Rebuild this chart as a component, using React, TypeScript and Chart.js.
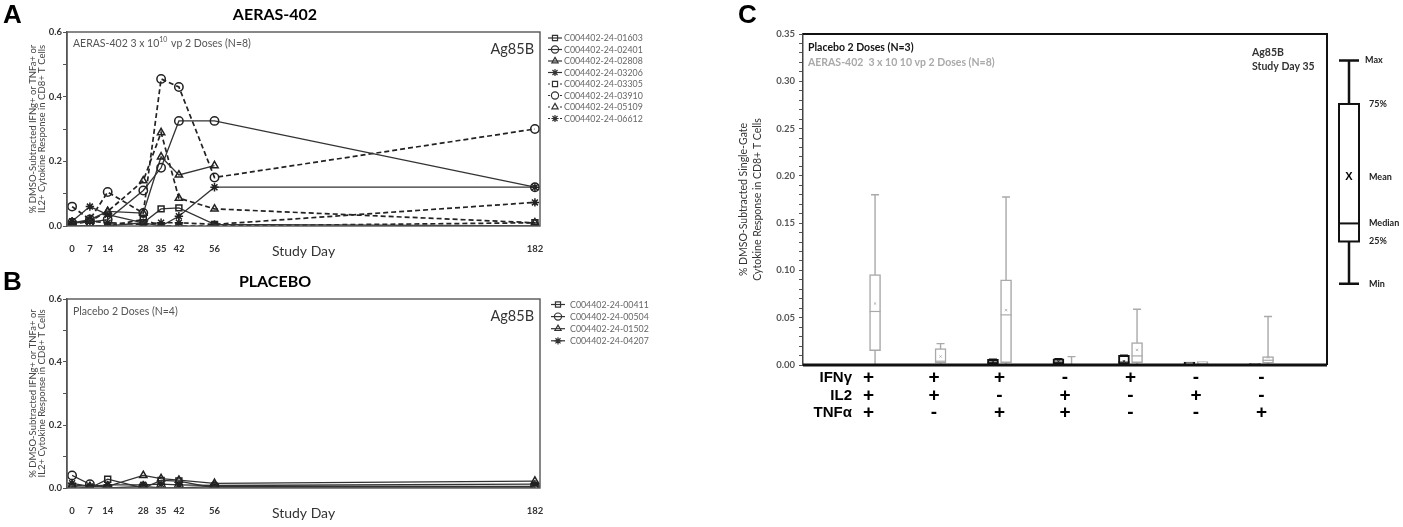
import React, { useEffect, useRef } from "react";
import { Chart, registerables } from "chart.js";
import { drawPoint } from "chart.js/helpers";

Chart.register(...registerables);

const FONT = "Lato, 'Open Sans', sans-serif";
const LETTER_FONT = "'Liberation Sans', Arial, sans-serif";

// ---------- panels A and B: response per subject over study days
const studyDays = [0, 7, 14, 28, 35, 42, 56, 182];
const lineYLabelled = [0, 0.2, 0.4, 0.6];

const aerasIds = [
  "C004402-24-01603",
  "C004402-24-02401",
  "C004402-24-02808",
  "C004402-24-03206",
  "C004402-24-03305",
  "C004402-24-03910",
  "C004402-24-05109",
  "C004402-24-06612",
];
const a01603 = [0.0, 0.0, 0.0, 0.01, 0.053, 0.056, 0.005, 0.0];
const a02401 = [0.01, 0.012, 0.02, 0.11, 0.18, 0.325, 0.325, 0.12];
const a02808 = [0.01, 0.02, 0.045, 0.04, 0.214, 0.158, 0.187, null];
const a03206 = [0.015, 0.06, 0.035, 0.01, 0.0, 0.03, 0.12, 0.12];
const a03305 = [0.0, 0.0, 0.0, 0.02, 0.0, 0.0, 0.0, 0.01];
const a03910 = [0.06, 0.02, 0.105, 0.04, 0.455, 0.43, 0.15, 0.3];
const a05109 = [0.01, 0.015, 0.045, 0.14, 0.289, 0.086, 0.053, 0.01];
const a06612 = [0.005, 0.015, 0.01, 0.005, 0.01, 0.01, 0.005, 0.073];

const placeboIds = ["C004402-24-00411", "C004402-24-00504", "C004402-24-01502", "C004402-24-04207"];
const p00411 = [0.005, 0.0, 0.028, 0.0, 0.024, 0.022, 0.0, 0.0];
const p00504 = [0.04, 0.012, 0.0, 0.005, 0.0, 0.0, 0.005, 0.005];
const p01502 = [0.01, 0.005, 0.005, 0.04, 0.03, 0.025, 0.015, 0.022];
const p04207 = [0.015, 0.005, 0.01, 0.01, 0.012, 0.01, 0.008, 0.012];

// ---------- panel C: single-gate responses at study day 35
const cytokinePositions = [1, 2, 3, 4, 5, 6, 7];
const ifngSigns = ["+", "+", "+", "-", "+", "-", "-"];
const il2Signs = ["+", "+", "-", "+", "-", "+", "-"];
const tnfSigns = ["+", "-", "+", "+", "-", "-", "+"];
const cYLabelled = [0, 0.05, 0.1, 0.15, 0.2, 0.25, 0.3, 0.35];

const placeboMin = [0, 0, 0, 0, 0, 0, 0];
const placeboQ1 = [0, 0, 0.001, 0.001, 0.0005, 0.001, 0];
const placeboMedian = [0, 0, 0.003, 0.003, 0.003, 0.002, 0.001];
const placeboQ3 = [0.0005, 0, 0.006, 0.0065, 0.0103, 0.003, 0.0015];
const placeboMax = [0.0005, 0, 0.006, 0.0065, 0.0103, 0.003, 0.0015];
const placeboMean = [0.0003, 0, 0.003, 0.004, 0.004, 0.002, 0.001];

const aerasMin = [0, 0, 0, 0, 0, 0, 0];
const aerasQ1 = [0.0152, 0.002, 0.0025, 0, 0.0025, 0.001, 0.002];
const aerasMedian = [0.0566, 0.004, 0.053, 0.0005, 0.0096, 0.002, 0.005];
const aerasQ3 = [0.0955, 0.0173, 0.09, 0.001, 0.0237, 0.0035, 0.0089];
const aerasMax = [0.18, 0.0226, 0.1776, 0.0089, 0.059, 0.0035, 0.0513];
const aerasMean = [0.065, 0.009, 0.058, 0.002, 0.016, 0.002, 0.008];

// schematic key on the right of panel C, in y-axis units
const keyLabels = ["Max", "75%", "Mean", "Median", "25%", "Min"];
const keyLevels = [0.322, 0.276, 0.1985, 0.1497, 0.1306, 0.086];

type LineSpec = {
  letter: string;
  title: string;
  note: [string, boolean][];
  noteDy: number;
  ids: string[];
  series: (number | null)[][];
  shapes: string[];
  dashed: boolean[];
  legendX: number;
  legendTextX: number;
  legendTop: number;
  legendStep: number;
};

const near = (list: number[], v: number) => list.find((m) => Math.abs(m - v) < 1e-6);

function lineDecor(spec: LineSpec) {
  return {
    id: "lineDecor",
    afterDraw(chart: any) {
      const { ctx, chartArea: a } = chart;
      ctx.save();
      ctx.setLineDash([]);
      ctx.strokeStyle = "#555";
      ctx.lineWidth = 1.4;
      ctx.strokeRect(a.left, a.top, a.right - a.left, a.bottom - a.top);

      ctx.textBaseline = "middle";
      ctx.fillStyle = "#000";
      ctx.textAlign = "left";
      ctx.font = `bold 26px ${LETTER_FONT}`;
      ctx.fillText(spec.letter, 3, 16);
      ctx.textAlign = "center";
      ctx.font = `bold 16px ${FONT}`;
      ctx.fillText(spec.title, 275, 15);

      // group note, with superscript pieces
      ctx.textAlign = "left";
      ctx.fillStyle = "#555";
      let x = a.left + 6;
      const ny = a.top + spec.noteDy;
      spec.note.forEach(([t, sup]) => {
        ctx.font = sup ? `7px ${FONT}` : `10.5px ${FONT}`;
        ctx.fillText(t, x, sup ? ny - 4 : ny);
        x += ctx.measureText(t).width + (sup ? 1 : 0);
      });

      ctx.textAlign = "right";
      ctx.fillStyle = "#333";
      ctx.font = `14.5px ${FONT}`;
      ctx.fillText("Ag85B", a.right - 6, a.top + 17);

      // legend: line sample + marker + id
      chart.data.datasets.forEach((ds: any, i: number) => {
        const y = spec.legendTop + i * spec.legendStep;
        const cx = spec.legendX;
        ctx.strokeStyle = "#333";
        ctx.lineWidth = 1.2;
        ctx.beginPath();
        if (ds.borderDash.length) {
          ctx.moveTo(cx - 7, y);
          ctx.lineTo(cx - 5, y);
          ctx.moveTo(cx + 5, y);
          ctx.lineTo(cx + 7, y);
        } else {
          ctx.moveTo(cx - 7, y);
          ctx.lineTo(cx + 7, y);
        }
        ctx.stroke();
        ctx.fillStyle = "rgba(255,255,255,0)";
        drawPoint(ctx, { pointStyle: ds.pointStyle, radius: 3.6, borderWidth: 1.3, rotation: 0 } as any, cx, y);
        ctx.fillStyle = "#666";
        ctx.font = `8.8px ${FONT}`;
        ctx.textAlign = "left";
        ctx.fillText(ds.label, spec.legendTextX, y + 0.5);
      });
      ctx.restore();
    },
  };
}

function lineConfig(spec: LineSpec): any {
  return {
    type: "line",
    data: {
      datasets: spec.series.map((vals, i) => ({
        label: spec.ids[i],
        data: studyDays.map((d, j) => ({ x: d, y: vals[j] })),
        borderColor: spec.dashed[i] ? "#222" : "#333",
        borderWidth: spec.dashed[i] ? 1.7 : 1.3,
        borderDash: spec.dashed[i] ? [5, 3] : [],
        pointStyle: spec.shapes[i],
        pointRadius: 4.2,
        pointBorderWidth: 1.5,
        pointBorderColor: "#222",
        pointBackgroundColor: "rgba(255,255,255,0)",
        spanGaps: false,
        tension: 0,
      })),
    },
    options: {
      animation: false,
      responsive: false,
      maintainAspectRatio: false,
      layout: { padding: { left: 0, top: 32, right: 160, bottom: 5 } },
      plugins: { legend: { display: false }, tooltip: { enabled: false }, title: { display: false } },
      scales: {
        x: {
          type: "linear",
          min: -2,
          max: 184,
          afterBuildTicks: (s: any) => {
            s.ticks = studyDays.map((v) => ({ value: v }));
          },
          afterFit: (s: any) => {
            s.height = 34;
          },
          grid: { display: false },
          border: { display: false },
          ticks: {
            autoSkip: false,
            maxRotation: 0,
            padding: 9,
            color: "#333",
            font: { family: FONT, size: 9.5, weight: "bold" },
            callback: (v: number) => String(v),
          },
          title: {
            display: true,
            text: "Study Day",
            color: "#333",
            font: { family: FONT, size: 14 },
            padding: { top: 0, bottom: 0 },
          },
        },
        y: {
          min: 0,
          max: 0.6,
          afterBuildTicks: (s: any) => {
            s.ticks = [0, 1, 2, 3, 4, 5, 6].map((k) => ({ value: k / 10 }));
          },
          afterFit: (s: any) => {
            s.width = 67;
          },
          grid: { drawOnChartArea: false, drawTicks: true, tickLength: 4, color: "#555" },
          border: { display: true, color: "#555", width: 1.4 },
          ticks: {
            autoSkip: false,
            padding: 1,
            color: "#333",
            font: { family: FONT, size: 9.5, weight: "bold" },
            callback: (v: number) => {
              const m = near(lineYLabelled, v);
              return m === undefined ? "" : m.toFixed(1);
            },
          },
          title: {
            display: true,
            text: ["% DMSO-Subtracted IFNg+ or TNFa+ or", "IL2+ Cytokine Response in CD8+ T Cells"],
            color: "#444",
            font: { family: FONT, size: 9.5, lineHeight: 0.98 },
            padding: { top: 28, bottom: 0 },
          },
        },
      },
    },
    plugins: [lineDecor(spec)],
  };
}

const specA: LineSpec = {
  letter: "A",
  title: "AERAS-402",
  note: [
    ["AERAS-402 3 x 10", false],
    ["10", true],
    [" vp 2 Doses (N=8)", false],
  ],
  noteDy: 12,
  ids: aerasIds,
  series: [a01603, a02401, a02808, a03206, a03305, a03910, a05109, a06612],
  shapes: ["rect", "circle", "triangle", "star", "rect", "circle", "triangle", "star"],
  dashed: [false, false, false, false, true, true, true, true],
  legendX: 555,
  legendTextX: 564,
  legendTop: 38,
  legendStep: 11.5,
};

const specB: LineSpec = {
  letter: "B",
  title: "PLACEBO",
  note: [["Placebo 2 Doses (N=4)", false]],
  noteDy: 13,
  ids: placeboIds,
  series: [p00411, p00504, p01502, p04207],
  shapes: ["rect", "circle", "triangle", "star"],
  dashed: [false, false, false, false],
  legendX: 558,
  legendTextX: 570,
  legendTop: 37.5,
  legendStep: 12.1,
};

// ---------- panel C box plots
const boxGroups = [
  {
    offset: -0.1,
    color: "#111",
    width: 2,
    min: placeboMin,
    q1: placeboQ1,
    median: placeboMedian,
    q3: placeboQ3,
    max: placeboMax,
    mean: placeboMean,
  },
  {
    offset: 0.1,
    color: "#a9a9a9",
    width: 1.5,
    min: aerasMin,
    q1: aerasQ1,
    median: aerasMedian,
    q3: aerasQ3,
    max: aerasMax,
    mean: aerasMean,
  },
];

const boxPlugin = {
  id: "boxDecor",
  beforeDatasetsDraw(chart: any) {
    const { ctx } = chart;
    const xs = chart.scales.x;
    const ys = chart.scales.y;
    ctx.save();
    boxGroups.forEach((g) => {
      ctx.strokeStyle = g.color;
      ctx.lineWidth = g.width === 2 ? 1.6 : 1.4;
      cytokinePositions.forEach((p, i) => {
        const cx = xs.getPixelForValue(p + g.offset);
        const yMax = ys.getPixelForValue(g.max[i]);
        const yMin = ys.getPixelForValue(g.min[i]);
        if (g.max[i] - g.min[i] < 0.004) return;
        ctx.beginPath();
        ctx.moveTo(cx, yMin);
        ctx.lineTo(cx, yMax);
        ctx.moveTo(cx - 4, yMax);
        ctx.lineTo(cx + 4, yMax);
        ctx.stroke();
      });
    });
    ctx.restore();
  },
  afterDatasetsDraw(chart: any) {
    const { ctx, chartArea: a } = chart;
    const xs = chart.scales.x;
    const ys = chart.scales.y;
    ctx.save();
    // medians and means inside boxes
    boxGroups.forEach((g) => {
      cytokinePositions.forEach((p, i) => {
        const cx = xs.getPixelForValue(p + g.offset);
        if (g.q3[i] - g.q1[i] < 0.004) return;
        ctx.strokeStyle = g.color;
        ctx.lineWidth = 1.2;
        const ym = ys.getPixelForValue(g.median[i]);
        ctx.beginPath();
        ctx.moveTo(cx - 5.5, ym);
        ctx.lineTo(cx + 5.5, ym);
        ctx.stroke();
        const yc = ys.getPixelForValue(g.mean[i]);
        ctx.lineWidth = 0.8;
        ctx.beginPath();
        ctx.moveTo(cx - 1.2, yc - 1.2);
        ctx.lineTo(cx + 1.2, yc + 1.2);
        ctx.moveTo(cx + 1.2, yc - 1.2);
        ctx.lineTo(cx - 1.2, yc + 1.2);
        ctx.stroke();
      });
    });

    // frame: thin top/right, heavy baseline
    ctx.strokeStyle = "#111";
    ctx.lineWidth = 2;
    ctx.beginPath();
    ctx.moveTo(a.left, a.top);
    ctx.lineTo(a.right, a.top);
    ctx.lineTo(a.right, a.bottom);
    ctx.stroke();
    ctx.lineWidth = 3;
    const y0 = ys.getPixelForValue(0);
    ctx.beginPath();
    ctx.moveTo(a.left, y0);
    ctx.lineTo(a.right, y0);
    ctx.stroke();

    // panel letter and texts
    ctx.textBaseline = "middle";
    ctx.textAlign = "left";
    ctx.fillStyle = "#000";
    ctx.font = `bold 26px ${LETTER_FONT}`;
    ctx.fillText("C", 8, 16);
    ctx.font = `bold 10.5px ${FONT}`;
    ctx.fillStyle = "#111";
    ctx.fillText("Placebo 2 Doses (N=3)", a.left + 5, 48);
    ctx.fillStyle = "#a9a9a9";
    ctx.fillText("AERAS-402  3 x 10 10 vp 2 Doses (N=8)", a.left + 5, 63);
    ctx.fillStyle = "#333";
    ctx.fillText("Ag85B", 522, 53);
    ctx.fillText("Study Day 35", 522, 67);

    // cytokine combination table
    const rowY = [378, 396, 413];
    const rowNames = ["IFNγ", "IL2", "TNFα"];
    const rowSigns = [ifngSigns, il2Signs, tnfSigns];
    ctx.fillStyle = "#000";
    rowNames.forEach((name, r) => {
      ctx.textAlign = "right";
      ctx.font = `bold 15px ${LETTER_FONT}`;
      ctx.fillText(name, 122, rowY[r]);
      ctx.textAlign = "center";
      ctx.font = `bold 19px ${LETTER_FONT}`;
      cytokinePositions.forEach((p, i) => {
        ctx.fillText(rowSigns[r][i], xs.getPixelForValue(p), rowY[r]);
      });
    });

    // schematic key
    const kx = 619;
    const [kMax, kQ3, kMean, kMed, kQ1, kMin] = keyLevels.map((v) => ys.getPixelForValue(v));
    ctx.strokeStyle = "#111";
    ctx.lineWidth = 2.5;
    ctx.beginPath();
    ctx.moveTo(kx, kMax);
    ctx.lineTo(kx, kQ3);
    ctx.moveTo(kx, kQ1);
    ctx.lineTo(kx, kMin);
    ctx.moveTo(kx - 10, kMax);
    ctx.lineTo(kx + 10, kMax);
    ctx.moveTo(kx - 10, kMin);
    ctx.lineTo(kx + 10, kMin);
    ctx.stroke();
    ctx.lineWidth = 2;
    ctx.strokeRect(kx - 10, kQ3, 20, kQ1 - kQ3);
    ctx.beginPath();
    ctx.moveTo(kx - 10, kMed);
    ctx.lineTo(kx + 10, kMed);
    ctx.stroke();
    ctx.textAlign = "center";
    ctx.font = `bold 11px ${LETTER_FONT}`;
    ctx.fillText("X", kx, kMean);
    ctx.textAlign = "left";
    ctx.font = `bold 9px ${FONT}`;
    ctx.fillStyle = "#222";
    keyLabels.forEach((lab, i) => {
      const y = ys.getPixelForValue(keyLevels[i]);
      ctx.fillText(lab, i === 0 ? 635 : 639, y);
    });
    ctx.restore();
  },
};

function boxConfig(): any {
  return {
    type: "bar",
    data: {
      datasets: boxGroups.map((g, gi) => ({
        label: gi === 0 ? "Placebo 2 Doses (N=3)" : "AERAS-402 3 x 10 10 vp 2 Doses (N=8)",
        data: cytokinePositions.map((p, i) => ({ x: p + g.offset, y: [g.q1[i], g.q3[i]] })),
        backgroundColor: "#fff",
        borderColor: g.color,
        borderWidth: g.width,
        borderSkipped: false,
        barThickness: 11,
        grouped: false,
      })),
    },
    options: {
      animation: false,
      responsive: false,
      maintainAspectRatio: false,
      layout: { padding: { left: 0, top: 34, right: 76, bottom: 162 } },
      plugins: { legend: { display: false }, tooltip: { enabled: false } },
      scales: {
        x: { type: "linear", min: 0, max: 8, offset: false, display: false },
        y: {
          min: 0,
          max: 0.35,
          afterBuildTicks: (s: any) => {
            const t: any[] = [];
            for (let k = 0; k <= 35; k++) t.push({ value: k / 100 });
            s.ticks = t;
          },
          afterFit: (s: any) => {
            s.width = 73;
          },
          grid: { drawOnChartArea: false, drawTicks: true, tickLength: 4, color: "#555" },
          border: { display: true, color: "#444", width: 1.5 },
          ticks: {
            autoSkip: false,
            padding: 4,
            color: "#555",
            font: { family: FONT, size: 9.5, weight: "bold" },
            callback: (v: number) => {
              const m = near(cYLabelled, v);
              return m === undefined ? "" : m.toFixed(2);
            },
          },
          title: {
            display: true,
            text: ["% DMSO-Subtracted Single-Gate", "Cytokine Response in CD8+ T Cells"],
            color: "#333",
            font: { family: FONT, size: 10.5, lineHeight: 1.25 },
            padding: { top: 7.5, bottom: 0 },
          },
        },
      },
    },
    plugins: [boxPlugin],
  };
}

function ChartCanvas({ make, left, top, width, height }: { make: () => any; left: number; top: number; width: number; height: number }) {
  const ref = useRef<HTMLCanvasElement | null>(null);
  useEffect(() => {
    if (!ref.current) return;
    const chart = new Chart(ref.current, make());
    return () => chart.destroy();
    // eslint-disable-next-line
  }, []);
  return (
    <canvas
      ref={ref}
      width={width}
      height={height}
      style={{ position: "absolute", left, top, width, height }}
    />
  );
}

export default function App() {
  return (
    <div style={{ position: "absolute", left: 0, top: 0, width: 1403, height: 527, background: "#fff", overflow: "hidden" }}>
      <ChartCanvas make={() => lineConfig(specA)} left={0} top={0} width={700} height={265} />
      <ChartCanvas make={() => lineConfig(specB)} left={0} top={267} width={700} height={260} />
      <ChartCanvas make={boxConfig} left={730} top={0} width={673} height={527} />
    </div>
  );
}
